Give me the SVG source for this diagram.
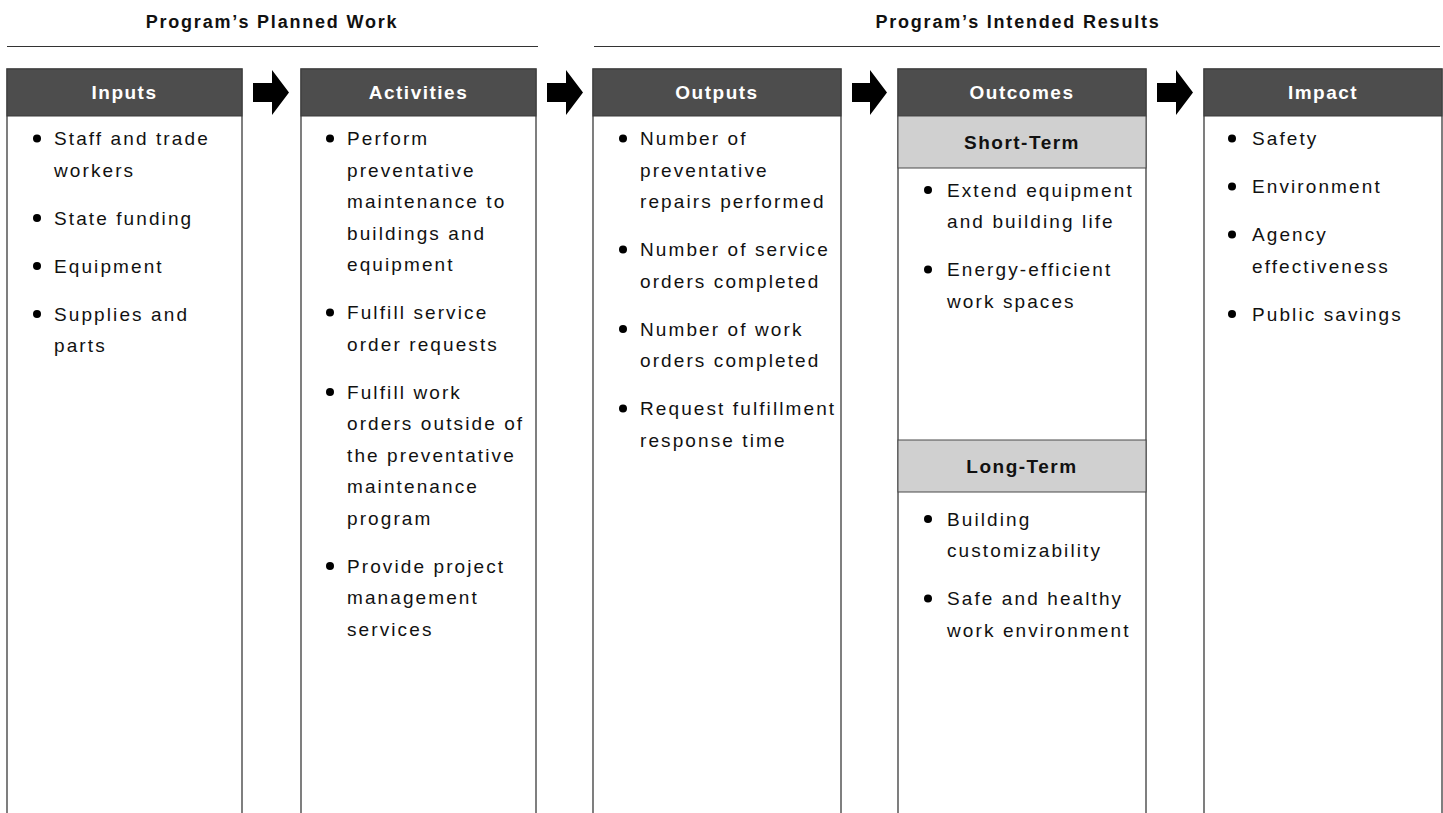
<svg xmlns="http://www.w3.org/2000/svg" width="1443" height="813" viewBox="0 0 1443 813">
  <style>
    .col { fill: #ffffff; stroke: #5f5f5f; stroke-width: 1.6; }
    .hdr { fill: #4d4d4d; stroke: #3a3a3a; stroke-width: 1; }
    .sub { fill: #d0d0d0; stroke: #4a4a4a; stroke-width: 1; }
    .rule { stroke: #333333; stroke-width: 1; }
    .title { font-family: "Liberation Sans", Arial, sans-serif; font-weight: bold; font-size: 18px; letter-spacing: 1.8px; fill: #111111; text-anchor: middle; }
    .htxt { font-family: "Liberation Sans", Arial, sans-serif; font-weight: bold; font-size: 19px; letter-spacing: 1.5px; fill: #ffffff; text-anchor: middle; }
    .stxt { font-family: "Liberation Sans", Arial, sans-serif; font-weight: bold; font-size: 19px; letter-spacing: 1.5px; fill: #111111; text-anchor: middle; }
    .body { font-family: "Liberation Sans", Arial, sans-serif; font-size: 19px; letter-spacing: 2.1px; fill: #111111; }
    .dot { fill: #000000; }
    .arrow { fill: #000000; }
  </style>

  <!-- section titles -->
  <g id="section-planned">
    <text class="title" x="272" y="28">Program’s Planned Work</text>
    <line class="rule" x1="7" y1="46.5" x2="538" y2="46.5"/>
  </g>
  <g id="section-results">
    <text class="title" x="1018" y="28">Program’s Intended Results</text>
    <line class="rule" x1="594" y1="46.5" x2="1440" y2="46.5"/>
  </g>

  <!-- Inputs -->
  <g id="inputs">
    <rect class="col" x="7" y="69" width="235" height="760"/>
    <rect class="hdr" x="7" y="69" width="235" height="47"/>
    <text class="htxt" x="124.5" y="99">Inputs</text>
    <circle class="dot" cx="37" cy="138.5" r="4"/>
    <text class="body" x="54" y="145">Staff and trade</text>
    <text class="body" x="54" y="176.5">workers</text>
    <circle class="dot" cx="37" cy="218" r="4"/>
    <text class="body" x="54" y="224.5">State funding</text>
    <circle class="dot" cx="37" cy="266" r="4"/>
    <text class="body" x="54" y="272.5">Equipment</text>
    <circle class="dot" cx="37" cy="314" r="4"/>
    <text class="body" x="54" y="320.5">Supplies and</text>
    <text class="body" x="54" y="352">parts</text>
  </g>

  <!-- Activities -->
  <g id="activities">
    <rect class="col" x="301" y="69" width="235" height="760"/>
    <rect class="hdr" x="301" y="69" width="235" height="47"/>
    <text class="htxt" x="418.5" y="99">Activities</text>
    <circle class="dot" cx="330" cy="138.5" r="4"/>
    <text class="body" x="347" y="145">Perform</text>
    <text class="body" x="347" y="176.5">preventative</text>
    <text class="body" x="347" y="208">maintenance to</text>
    <text class="body" x="347" y="239.5">buildings and</text>
    <text class="body" x="347" y="271">equipment</text>
    <circle class="dot" cx="330" cy="312.5" r="4"/>
    <text class="body" x="347" y="319">Fulfill service</text>
    <text class="body" x="347" y="350.5">order requests</text>
    <circle class="dot" cx="330" cy="392" r="4"/>
    <text class="body" x="347" y="398.5">Fulfill work</text>
    <text class="body" x="347" y="430">orders outside of</text>
    <text class="body" x="347" y="461.5">the preventative</text>
    <text class="body" x="347" y="493">maintenance</text>
    <text class="body" x="347" y="524.5">program</text>
    <circle class="dot" cx="330" cy="566" r="4"/>
    <text class="body" x="347" y="572.5">Provide project</text>
    <text class="body" x="347" y="604">management</text>
    <text class="body" x="347" y="635.5">services</text>
  </g>

  <!-- Outputs -->
  <g id="outputs">
    <rect class="col" x="593" y="69" width="248" height="760"/>
    <rect class="hdr" x="593" y="69" width="248" height="47"/>
    <text class="htxt" x="717" y="99">Outputs</text>
    <circle class="dot" cx="623" cy="138.5" r="4"/>
    <text class="body" x="640" y="145">Number of</text>
    <text class="body" x="640" y="176.5">preventative</text>
    <text class="body" x="640" y="208">repairs performed</text>
    <circle class="dot" cx="623" cy="249.5" r="4"/>
    <text class="body" x="640" y="256">Number of service</text>
    <text class="body" x="640" y="287.5">orders completed</text>
    <circle class="dot" cx="623" cy="329" r="4"/>
    <text class="body" x="640" y="335.5">Number of work</text>
    <text class="body" x="640" y="367">orders completed</text>
    <circle class="dot" cx="623" cy="408.5" r="4"/>
    <text class="body" x="640" y="415">Request fulfillment</text>
    <text class="body" x="640" y="446.5">response time</text>
  </g>

  <!-- Outcomes -->
  <g id="outcomes">
    <rect class="col" x="898" y="69" width="248" height="760"/>
    <rect class="hdr" x="898" y="69" width="248" height="47"/>
    <text class="htxt" x="1022" y="99">Outcomes</text>
    <rect class="sub" x="898" y="116" width="248" height="52"/>
    <text class="stxt" x="1022" y="149">Short-Term</text>
    <circle class="dot" cx="928" cy="190" r="4"/>
    <text class="body" x="947" y="196.5">Extend equipment</text>
    <text class="body" x="947" y="228">and building life</text>
    <circle class="dot" cx="928" cy="269.5" r="4"/>
    <text class="body" x="947" y="276">Energy-efficient</text>
    <text class="body" x="947" y="307.5">work spaces</text>
    <rect class="sub" x="898" y="440" width="248" height="52"/>
    <text class="stxt" x="1022" y="473">Long-Term</text>
    <circle class="dot" cx="928" cy="519" r="4"/>
    <text class="body" x="947" y="525.5">Building</text>
    <text class="body" x="947" y="557">customizability</text>
    <circle class="dot" cx="928" cy="598.5" r="4"/>
    <text class="body" x="947" y="605">Safe and healthy</text>
    <text class="body" x="947" y="636.5">work environment</text>
  </g>

  <!-- Impact -->
  <g id="impact">
    <rect class="col" x="1204" y="69" width="238" height="760"/>
    <rect class="hdr" x="1204" y="69" width="238" height="47"/>
    <text class="htxt" x="1323" y="99">Impact</text>
    <circle class="dot" cx="1232" cy="138.5" r="4"/>
    <text class="body" x="1252" y="145">Safety</text>
    <circle class="dot" cx="1232" cy="186.5" r="4"/>
    <text class="body" x="1252" y="193">Environment</text>
    <circle class="dot" cx="1232" cy="234.5" r="4"/>
    <text class="body" x="1252" y="241">Agency</text>
    <text class="body" x="1252" y="272.5">effectiveness</text>
    <circle class="dot" cx="1232" cy="314" r="4"/>
    <text class="body" x="1252" y="320.5">Public savings</text>
  </g>

  <!-- block arrows between stages -->
  <g id="connectors">
    <polygon class="arrow" points="253,83 272,83 272,70 289,92.5 272,115 272,102 253,102"/>
    <polygon class="arrow" points="547,83 566,83 566,70 583,92.5 566,115 566,102 547,102"/>
    <polygon class="arrow" points="852,83 870,83 870,70 887,92.5 870,115 870,102 852,102"/>
    <polygon class="arrow" points="1157,83 1176,83 1176,70 1193,92.5 1176,115 1176,102 1157,102"/>
  </g>
</svg>
